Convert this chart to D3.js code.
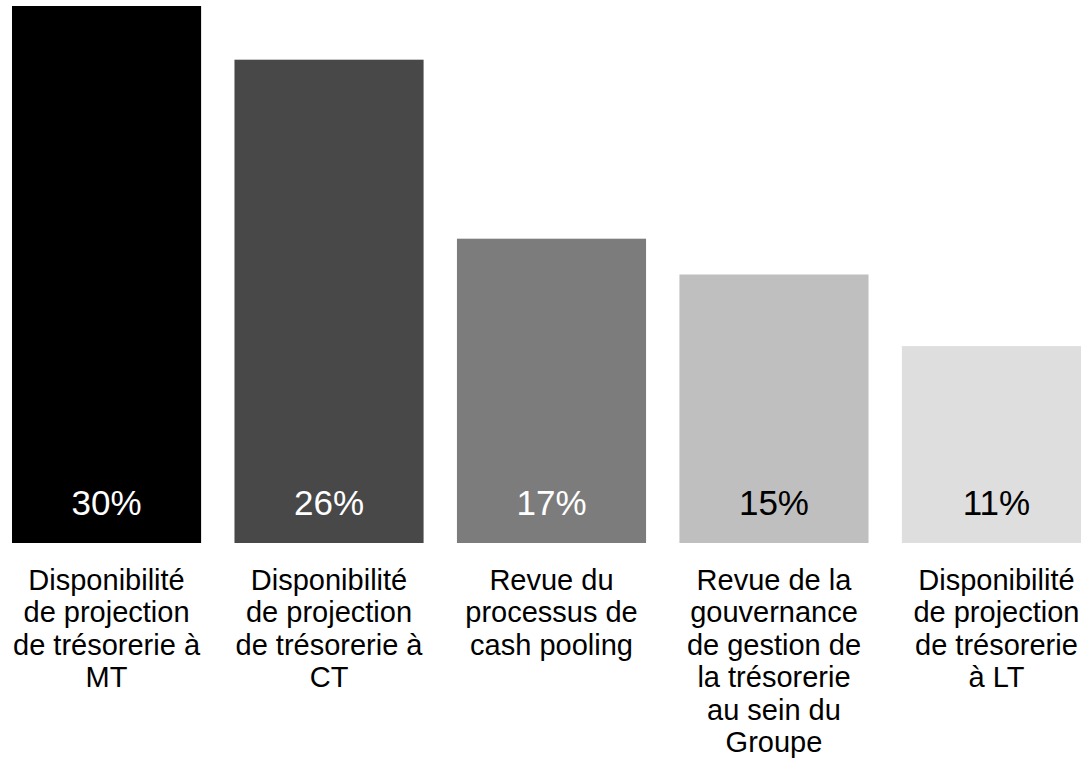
<!DOCTYPE html>
<html>
<head>
<meta charset="utf-8">
<script src="https://cdn.jsdelivr.net/npm/d3@7"></script>
<style>
  html, body { margin: 0; padding: 0; background: #fff; }
  svg { display: block; font-family: "Liberation Sans", Arial, sans-serif; }
</style>
</head>
<body>
<svg id="chart" width="1081" height="766"></svg>
<script>
// Values as drawn (bar heights), and the labels printed on the bars
const ids = ["mt", "ct", "cash", "gouv", "lt"];
const values = [30, 27, 17, 15, 11];
const valueLabels = ["30%", "26%", "17%", "15%", "11%"];
const categoryLines = [
  ["Disponibilité", "de projection", "de trésorerie à", "MT"],
  ["Disponibilité", "de projection", "de trésorerie à", "CT"],
  ["Revue du", "processus de", "cash pooling"],
  ["Revue de la", "gouvernance", "de gestion de", "la trésorerie", "au sein du", "Groupe"],
  ["Disponibilité", "de projection", "de trésorerie", "à LT"]
];
const barColors = ["#000000", "#484848", "#7c7c7c", "#bfbfbf", "#dedede"];
const labelColors = ["#ffffff", "#ffffff", "#ffffff", "#000000", "#000000"];

const svg = d3.select("#chart");
const baseline = 543;

const x = d3.scaleBand()
  .domain(ids)
  .range([12, 1091])
  .paddingInner(0.15)
  .paddingOuter(0);

const y = d3.scaleLinear()
  .domain([0, 30])
  .range([baseline, 6]);

const data = ids.map((id, i) => ({
  id, value: values[i], label: valueLabels[i], lines: categoryLines[i],
  color: barColors[i], textColor: labelColors[i]
}));

svg.selectAll("rect.bar")
  .data(data)
  .join("rect")
  .attr("class", "bar")
  .attr("x", d => x(d.id))
  .attr("width", x.bandwidth())
  .attr("y", d => y(d.value))
  .attr("height", d => y(0) - y(d.value))
  .attr("fill", d => d.color);

// value label near the bottom of each bar
svg.selectAll("text.value")
  .data(data)
  .join("text")
  .attr("class", "value")
  .attr("x", d => x(d.id) + x.bandwidth() / 2)
  .attr("y", baseline - 28)
  .attr("text-anchor", "middle")
  .attr("font-size", 35)
  .attr("fill", d => d.textColor)
  .text(d => d.label);

// category labels, one tspan per line
const cat = svg.selectAll("text.cat")
  .data(data)
  .join("text")
  .attr("class", "cat")
  .attr("text-anchor", "middle")
  .attr("font-size", 29)
  .attr("fill", "#000");

cat.selectAll("tspan")
  .data(d => d.lines.map(t => ({ t, cx: x(d.id) + x.bandwidth() / 2 })))
  .join("tspan")
  .attr("x", d => d.cx)
  .attr("y", (d, i) => 590 + i * 32.4)
  .text(d => d.t);
</script>
</body>
</html>
